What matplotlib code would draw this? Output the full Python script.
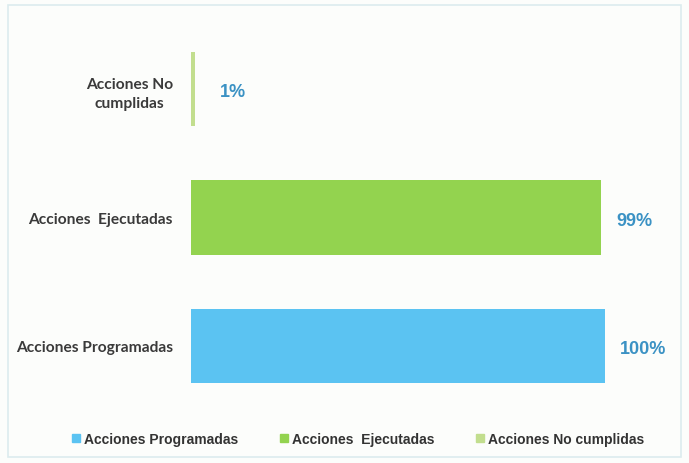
import matplotlib.pyplot as plt
from matplotlib.patches import Rectangle

categorias = ["Acciones Programadas", "Acciones  Ejecutadas", "Acciones No\ncumplidas"]
valores = [100, 99, 1]
etiquetas = ["100%", "99%", "1%"]
colores = ["#5bc3f2", "#93d34f", "#c2de8e"]

fig = plt.figure(figsize=(6.89, 4.64), dpi=100, facecolor="#fcfdfb")
ax = fig.add_axes([0.277, 0.114, 0.601, 0.83])
ax.set_facecolor("#fcfdfb")

pos = range(len(valores))
bars = ax.barh(pos, valores, height=0.58, color=colores, label=None)

for i, (v, t) in enumerate(zip(valores, etiquetas)):
    ax.annotate(t, (v, i), xytext=(11 if v > 50 else 18, -2), textcoords="offset points",
                ha="left", va="center", fontsize=13, fontweight="bold",
                color="#3b92c4", family="Liberation Sans")

ax.set_xlim(0, 100)
ax.set_ylim(-0.5, 2.5)
ax.set_yticks(list(pos))
ax.set_yticklabels(categorias, fontsize=11.2, fontweight="bold", color="#3a3a3a",
                   family="Lato", multialignment="center", linespacing=1.5)
ax.tick_params(axis="y", length=0, pad=13)
ax.set_xticks([])
for s in ax.spines.values():
    s.set_visible(False)

# legend
handles = [Rectangle((0, 0), 1, 1, color=c) for c in colores]
nombres = ["Acciones Programadas", "Acciones  Ejecutadas", "Acciones No cumplidas"]
fig.legend(handles, nombres, loc="center", bbox_to_anchor=(0.52, 0.052), ncol=3,
           frameon=False, handlelength=0.55, handleheight=0.55, handletextpad=0.3,
           columnspacing=3.0, prop={"family": "Liberation Sans", "weight": "bold", "size": 10},
           labelcolor="#333333")

# borde tenue
fig.patches.append(Rectangle((0.012, 0.012), 0.976, 0.975, transform=fig.transFigure,
                             fill=False, edgecolor="#dcecee", linewidth=1.2))

fig.savefig("out.png", dpi=100, facecolor=fig.get_facecolor())
